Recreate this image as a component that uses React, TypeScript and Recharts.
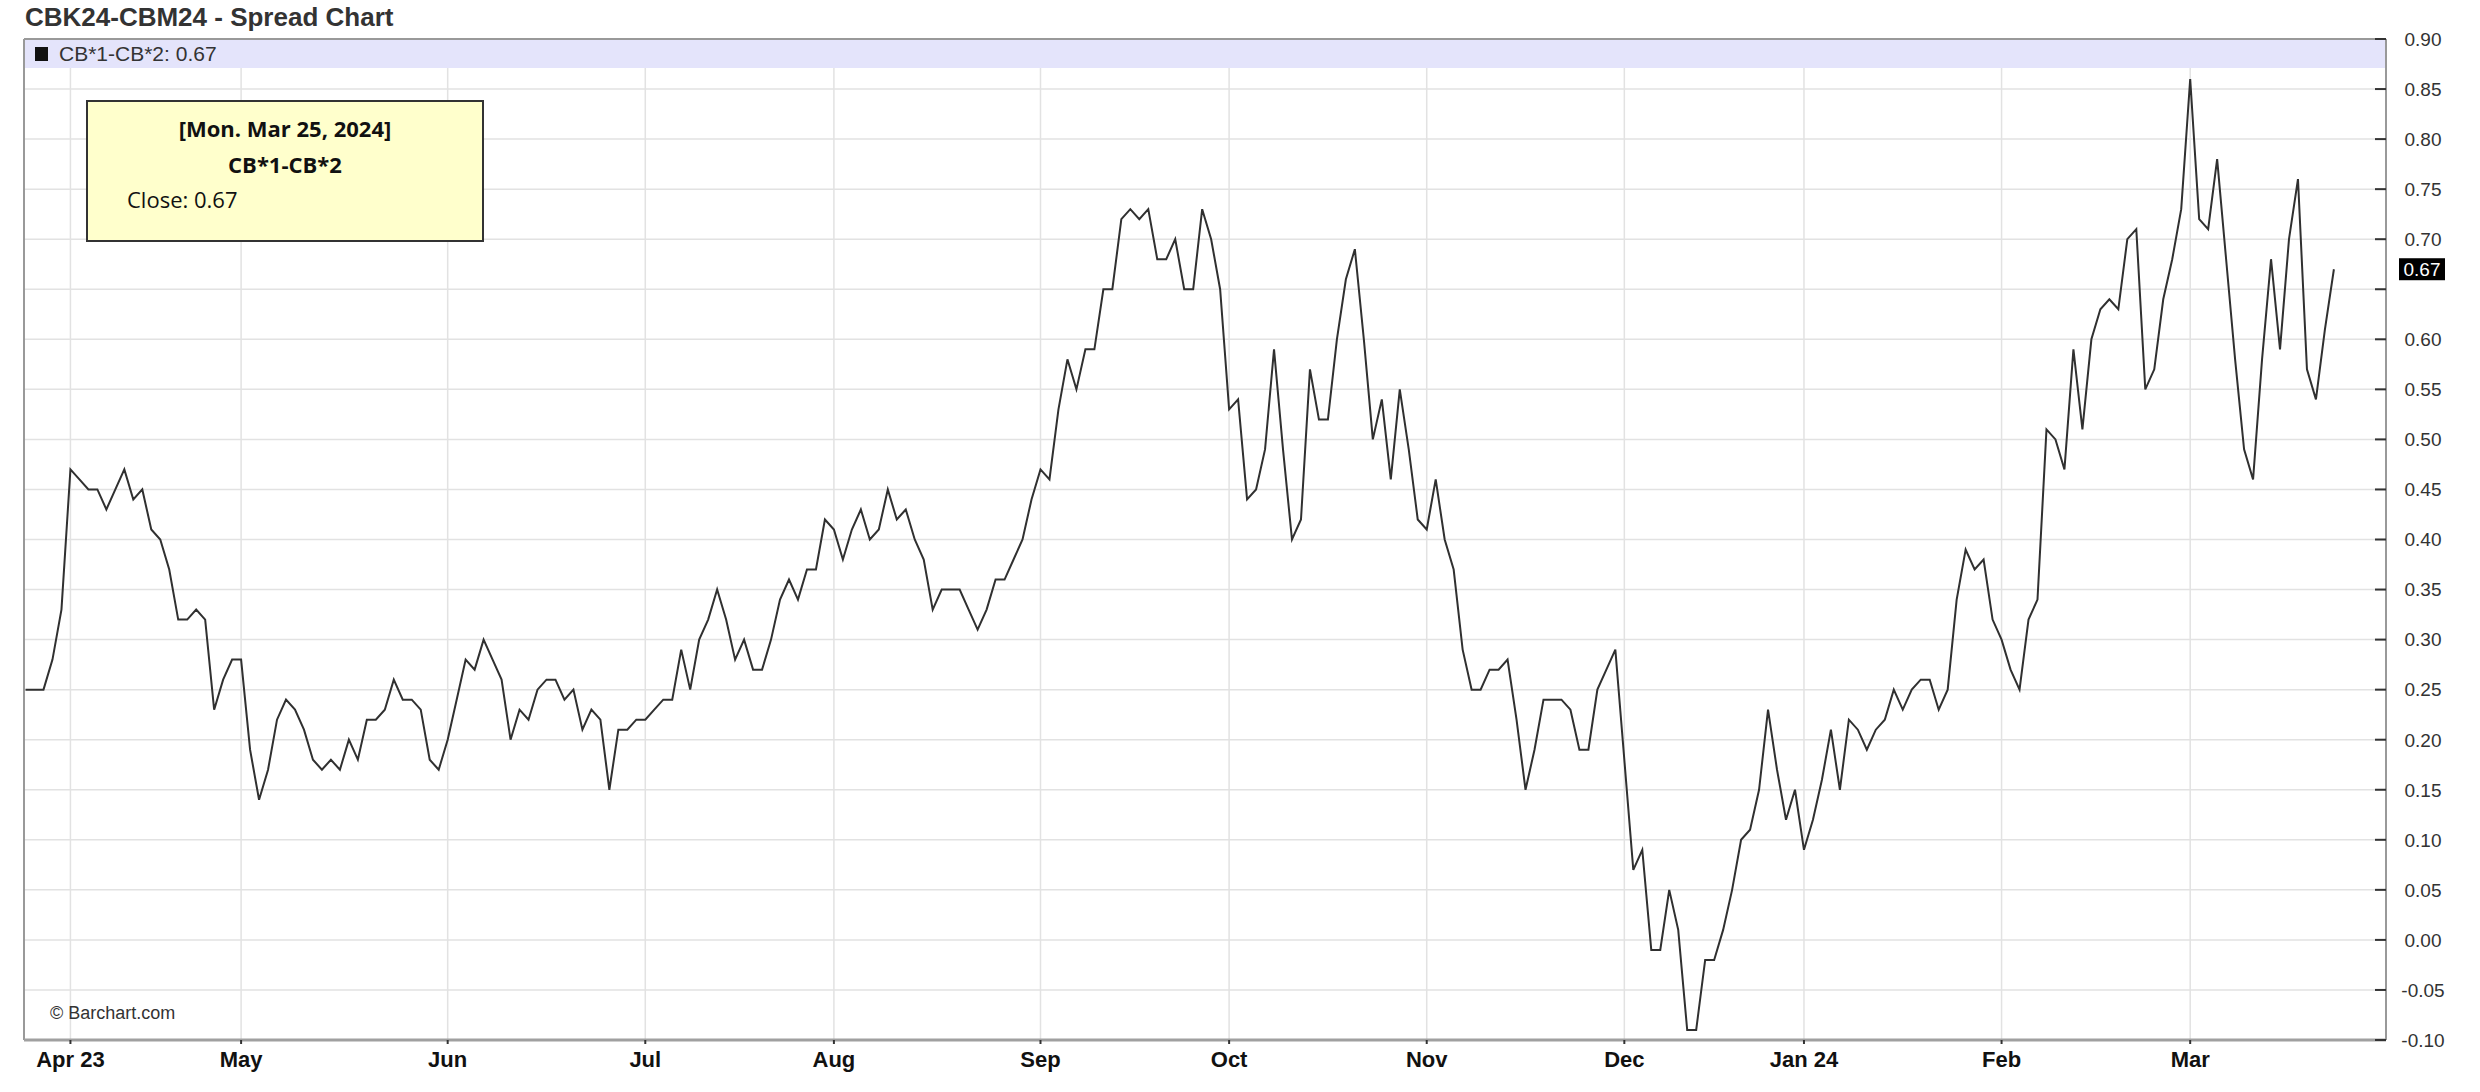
import { LineChart, Line, XAxis, YAxis, CartesianGrid, ReferenceArea, ReferenceLine } from "recharts";

// daily closes of the CB*1-CB*2 spread, one list per month
const MAR_23 = [0.25, 0.25, 0.25, 0.28, 0.33];
const APR_23 = [0.47, 0.46, 0.45, 0.45, 0.43, 0.45, 0.47, 0.44, 0.45, 0.41, 0.4, 0.37, 0.32, 0.32, 0.33, 0.32, 0.23, 0.26, 0.28];
const MAY_23 = [0.28, 0.19, 0.14, 0.17, 0.22, 0.24, 0.23, 0.21, 0.18, 0.17, 0.18, 0.17, 0.2, 0.18, 0.22, 0.22, 0.23, 0.26, 0.24, 0.24, 0.23, 0.18, 0.17];
const JUN_23 = [0.2, 0.24, 0.28, 0.27, 0.3, 0.28, 0.26, 0.2, 0.23, 0.22, 0.25, 0.26, 0.26, 0.24, 0.25, 0.21, 0.23, 0.22, 0.15, 0.21, 0.21, 0.22];
const JUL_23 = [0.22, 0.23, 0.24, 0.24, 0.29, 0.25, 0.3, 0.32, 0.35, 0.32, 0.28, 0.3, 0.27, 0.27, 0.3, 0.34, 0.36, 0.34, 0.37, 0.37, 0.42];
const AUG_23 = [0.41, 0.38, 0.41, 0.43, 0.4, 0.41, 0.45, 0.42, 0.43, 0.4, 0.38, 0.33, 0.35, 0.35, 0.35, 0.33, 0.31, 0.33, 0.36, 0.36, 0.38, 0.4, 0.44];
const SEP_23 = [0.47, 0.46, 0.53, 0.58, 0.55, 0.59, 0.59, 0.65, 0.65, 0.72, 0.73, 0.72, 0.73, 0.68, 0.68, 0.7, 0.65, 0.65, 0.73, 0.7, 0.65];
const OCT_23 = [0.53, 0.54, 0.44, 0.45, 0.49, 0.59, 0.49, 0.4, 0.42, 0.57, 0.52, 0.52, 0.6, 0.66, 0.69, 0.6, 0.5, 0.54, 0.46, 0.55, 0.49, 0.42];
const NOV_23 = [0.41, 0.46, 0.4, 0.37, 0.29, 0.25, 0.25, 0.27, 0.27, 0.28, 0.22, 0.15, 0.19, 0.24, 0.24, 0.24, 0.23, 0.19, 0.19, 0.25, 0.27, 0.29];
const DEC_23 = [0.18, 0.07, 0.09, -0.01, -0.01, 0.05, 0.01, -0.09, -0.09, -0.02, -0.02, 0.01, 0.05, 0.1, 0.11, 0.15, 0.23, 0.17, 0.12, 0.15];
const JAN_24 = [0.09, 0.12, 0.16, 0.21, 0.15, 0.22, 0.21, 0.19, 0.21, 0.22, 0.25, 0.23, 0.25, 0.26, 0.26, 0.23, 0.25, 0.34, 0.39, 0.37, 0.38, 0.32];
const FEB_24 = [0.3, 0.27, 0.25, 0.32, 0.34, 0.51, 0.5, 0.47, 0.59, 0.51, 0.6, 0.63, 0.64, 0.63, 0.7, 0.71, 0.55, 0.57, 0.64, 0.68, 0.73];
const MAR_24 = [0.86, 0.72, 0.71, 0.78, 0.68, 0.58, 0.49, 0.46, 0.58, 0.68, 0.59, 0.7, 0.76, 0.57, 0.54, 0.61, 0.67];

const CLOSES = [
  ...MAR_23, ...APR_23, ...MAY_23, ...JUN_23, ...JUL_23, ...AUG_23, ...SEP_23,
  ...OCT_23, ...NOV_23, ...DEC_23, ...JAN_24, ...FEB_24, ...MAR_24,
];

const MONTH_LABELS = ["Apr 23", "May", "Jun", "Jul", "Aug", "Sep", "Oct", "Nov", "Dec", "Jan 24", "Feb", "Mar"];
const MONTH_STARTS = [5, 24, 47, 69, 90, 113, 134, 156, 178, 198, 220, 241];
const Y_TICKS = [-0.1, -0.05, 0, 0.05, 0.1, 0.15, 0.2, 0.25, 0.3, 0.35, 0.4, 0.45, 0.5, 0.55, 0.6, 0.65, 0.7, 0.75, 0.8, 0.85, 0.9];
const LAST_CLOSE = 0.67;

const SANS = '"Liberation Sans", Arial, sans-serif';
const rows = CLOSES.map((close, i) => ({ i, close }));

function MonthTick({ x, y, payload }: any) {
  const k = MONTH_STARTS.indexOf(payload.value);
  return (
    <g>
      <line x1={x} x2={x} y1={y} y2={y + 4} stroke="#333" strokeWidth={2} />
      <text x={x} y={y + 27} textAnchor="middle" fontFamily={SANS} fontWeight="bold" fontSize={22} fill="#111">
        {MONTH_LABELS[k]}
      </text>
    </g>
  );
}

function PriceTick({ x, y, payload }: any) {
  const v = payload.value as number;
  // the last-price badge covers the 0.65 label
  const hidden = Math.abs(v - 0.65) < 1e-6;
  return (
    <g>
      <line x1={x - 11} x2={x} y1={y} y2={y} stroke="#333" strokeWidth={2} />
      {!hidden && (
        <text x={x + 37} y={y} dy="0.36em" textAnchor="middle" fontFamily={SANS} fontSize={19} fill="#333">
          {v.toFixed(2)}
        </text>
      )}
    </g>
  );
}

function LastBadge({ x1, x2, y1 }: any) {
  const right = Math.max(x1, x2);
  return (
    <g>
      <rect x={right + 13} y={y1 - 11} width={46} height={22} fill="#000" />
      <text x={right + 36} y={y1} dy="0.36em" textAnchor="middle" fontFamily={SANS} fontSize={19} fill="#fff">
        {LAST_CLOSE.toFixed(2)}
      </text>
    </g>
  );
}

export default function App() {
  return (
    <div style={{ position: "absolute", left: 0, top: 0, width: 2480, height: 1092, background: "#fff" }}>
      <LineChart width={2480} height={1092} data={rows} margin={{ top: 39, right: 0, bottom: 0, left: 24 }}>
        <ReferenceArea y1={0.871} y2={0.9} fill="#e4e4fb" fillOpacity={1} stroke="none" />
        <CartesianGrid stroke="#e2e2e2" strokeWidth={1.5} />
        <XAxis
          type="number"
          dataKey="i"
          domain={[-0.17, 262.8]}
          ticks={MONTH_STARTS}
          interval={0}
          allowDataOverflow
          height={52}
          tickSize={0}
          tickMargin={0}
          axisLine={{ stroke: "#a0a0a0", strokeWidth: 3 }}
          tick={<MonthTick />}
        />
        <YAxis
          orientation="right"
          domain={[-0.1, 0.9]}
          ticks={Y_TICKS}
          interval={0}
          allowDataOverflow
          width={94}
          tickSize={0}
          tickMargin={0}
          axisLine={{ stroke: "#999", strokeWidth: 2 }}
          tick={<PriceTick />}
        />
        <ReferenceLine x={-0.17} stroke="#999" strokeWidth={2} />
        <ReferenceLine y={0.9} stroke="#999" strokeWidth={2} />
        <Line
          type="linear"
          dataKey="close"
          stroke="#303030"
          strokeWidth={2}
          dot={false}
          activeDot={false}
          isAnimationActive={false}
        />
        <ReferenceLine y={LAST_CLOSE} stroke="none" shape={<LastBadge />} />
      </LineChart>

      <div style={{ position: "absolute", left: 25, top: 2, fontFamily: SANS, fontWeight: "bold", fontSize: 26, lineHeight: "30px", color: "#333", whiteSpace: "nowrap" }}>
        CBK24-CBM24 - Spread Chart
      </div>

      <div style={{ position: "absolute", left: 35, top: 47, width: 13, height: 14, background: "#111" }} />
      <div style={{ position: "absolute", left: 59, top: 42, fontFamily: SANS, fontSize: 21, lineHeight: "24px", color: "#333", whiteSpace: "nowrap" }}>
        CB*1-CB*2: 0.67
      </div>

      <div
        style={{
          position: "absolute",
          left: 86,
          top: 100,
          width: 398,
          height: 142,
          boxSizing: "border-box",
          border: "2px solid #333",
          background: "#ffffcc",
          fontFamily: '"Open Sans", sans-serif',
          fontSize: 22,
          lineHeight: "30px",
          color: "#111",
        }}
      >
        <div style={{ position: "absolute", top: 11, left: 0, right: 0, textAlign: "center", fontWeight: 700 }}>[Mon. Mar 25, 2024]</div>
        <div style={{ position: "absolute", top: 47, left: 0, right: 0, textAlign: "center", fontWeight: 700 }}>CB*1-CB*2</div>
        <div style={{ position: "absolute", top: 82, left: 39 }}>Close: 0.67</div>
      </div>

      <div style={{ position: "absolute", left: 50, top: 1002, fontFamily: SANS, fontSize: 18, lineHeight: "22px", color: "#333", whiteSpace: "nowrap" }}>
        © Barchart.com
      </div>
    </div>
  );
}
